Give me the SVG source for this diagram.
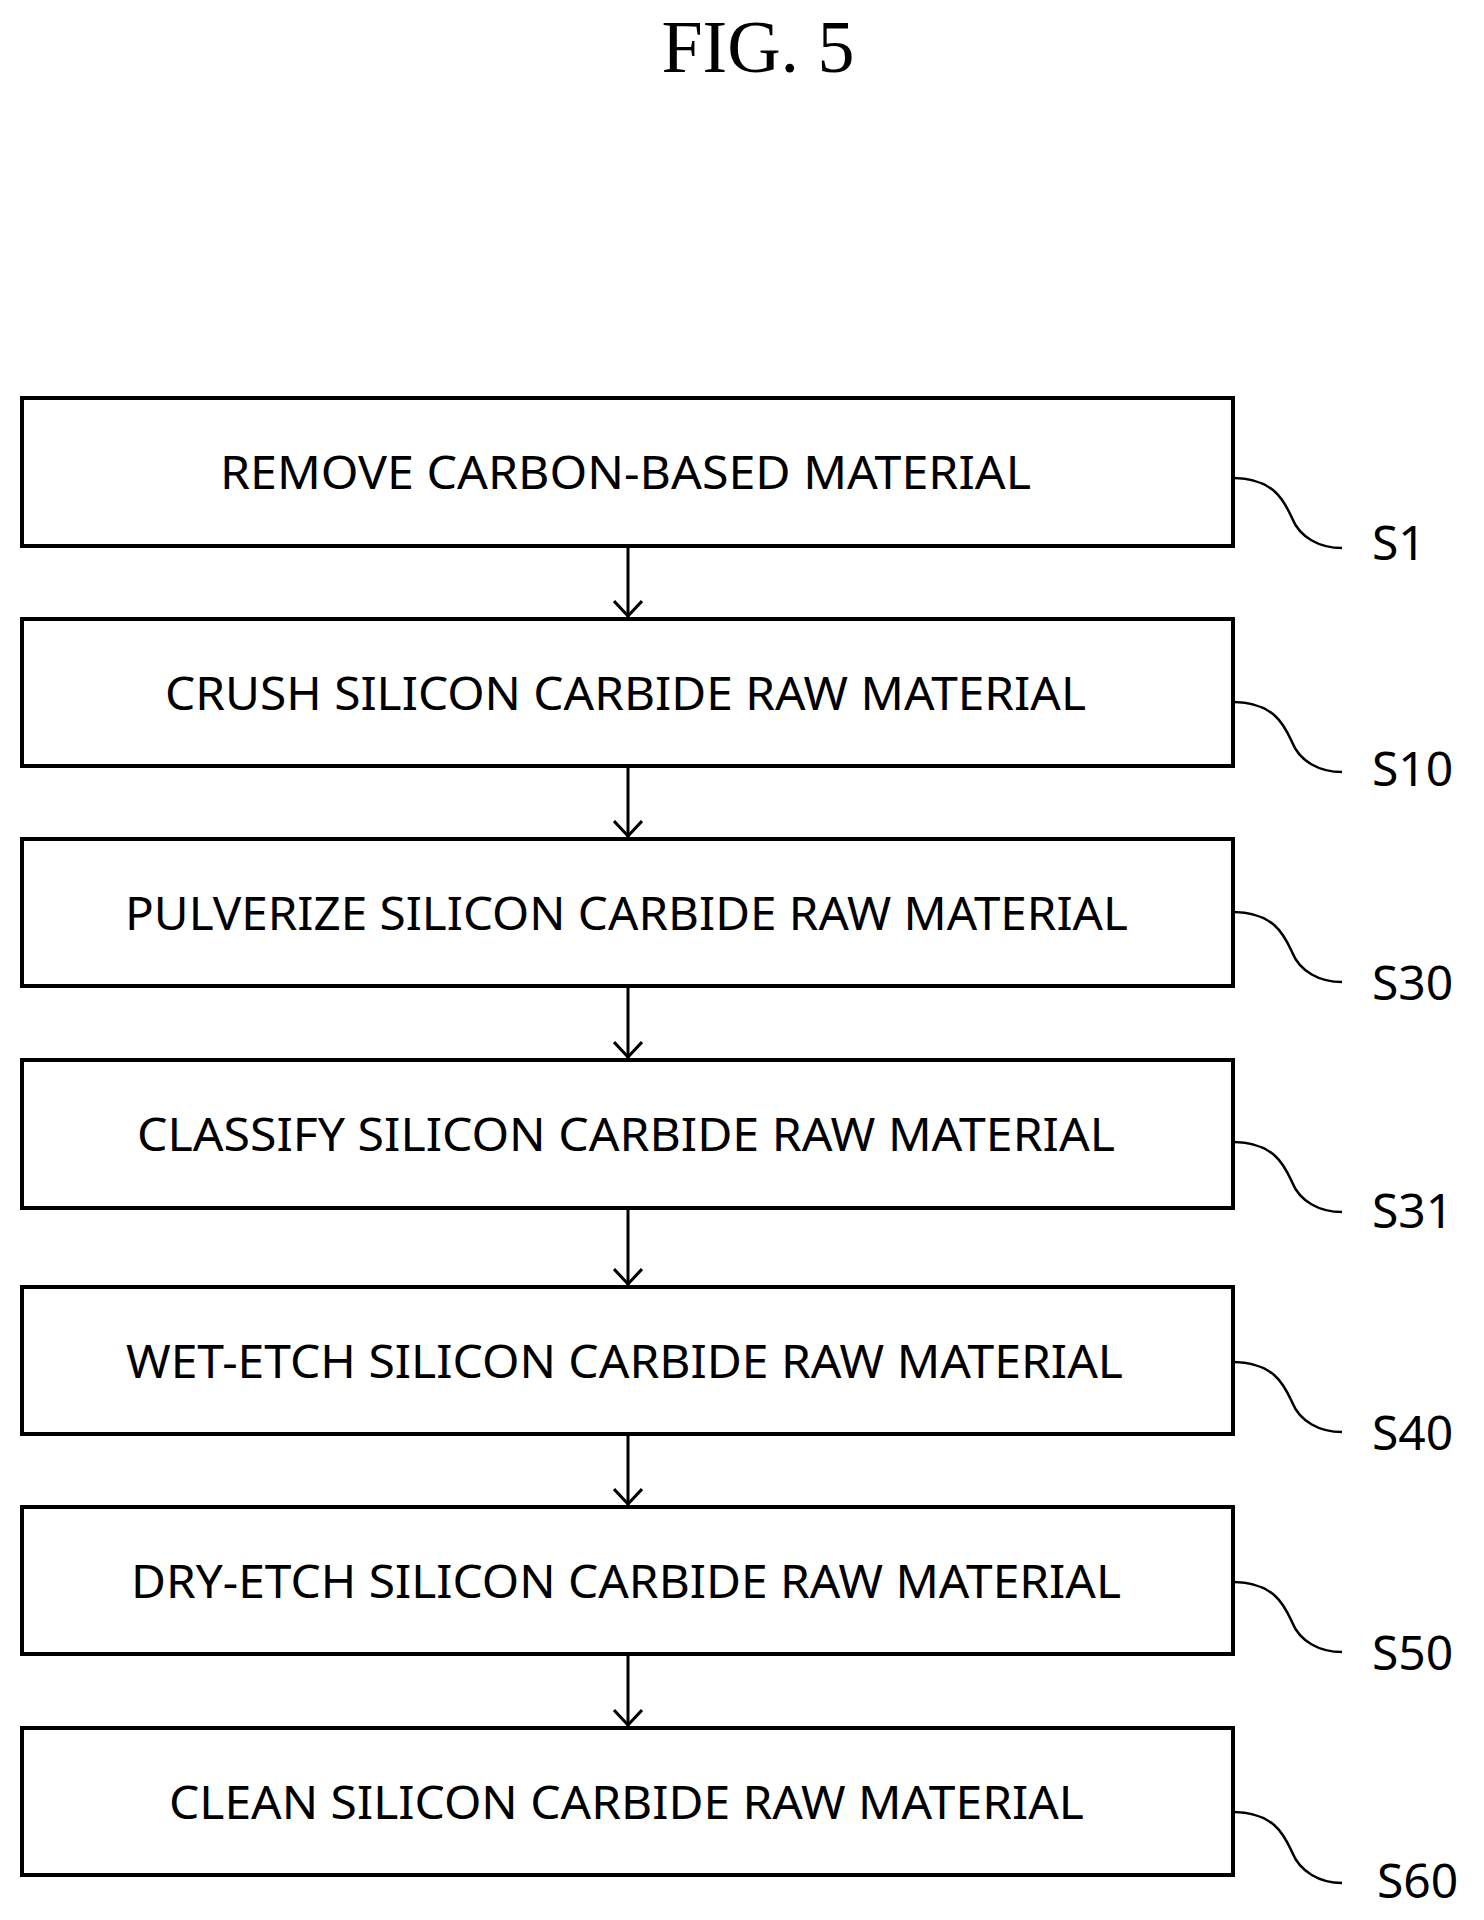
<svg xmlns="http://www.w3.org/2000/svg" width="1484" height="1920" viewBox="0 0 1484 1920">
<style>
.b{fill:#fff;stroke:#000;stroke-width:4}
.t{font-family:"Noto Sans","Noto Sans CJK KR",sans-serif;font-size:46px;text-anchor:start}
.l{font-family:"Noto Sans","Noto Sans CJK KR",sans-serif;font-size:48px}
.c{fill:none;stroke:#000;stroke-width:2.5}
.a{stroke:#000;stroke-width:3;marker-end:url(#ah)}
</style>
<defs><marker id="ah" markerWidth="18" markerHeight="30" refX="17" refY="15" orient="auto" markerUnits="userSpaceOnUse" viewBox="0 0 18 30"><path d="M1,1 L16,15 L1,29" fill="none" stroke="#000" stroke-width="3"/></marker></defs>
<rect width="1484" height="1920" fill="#fff"/>
<text x="758" y="72" font-family="Liberation Serif,serif" font-size="74" text-anchor="middle">FIG. 5</text>
<g id="n1"><rect class="b" x="22" y="398" width="1211" height="148"/><text class="t" x="220" y="489" textLength="811" lengthAdjust="spacingAndGlyphs">REMOVE CARBON-BASED MATERIAL</text><path class="c" d="M1233,478 C1275,478 1285,503 1292,518 C1300,538 1320,548 1342,548"/><text class="l" x="1372" y="560">S1</text></g>
<g id="n2"><rect class="b" x="22" y="619" width="1211" height="147"/><text class="t" x="165" y="710" textLength="921" lengthAdjust="spacingAndGlyphs">CRUSH SILICON CARBIDE RAW MATERIAL</text><path class="c" d="M1233,702 C1275,702 1285,727 1292,742 C1300,762 1320,772 1342,772"/><text class="l" x="1372" y="786">S10</text></g>
<g id="n3"><rect class="b" x="22" y="839" width="1211" height="147"/><text class="t" x="125" y="930" textLength="1003" lengthAdjust="spacingAndGlyphs">PULVERIZE SILICON CARBIDE RAW MATERIAL</text><path class="c" d="M1233,912 C1275,912 1285,937 1292,952 C1300,972 1320,982 1342,982"/><text class="l" x="1372" y="1000">S30</text></g>
<g id="n4"><rect class="b" x="22" y="1060" width="1211" height="148"/><text class="t" x="137" y="1151" textLength="978" lengthAdjust="spacingAndGlyphs">CLASSIFY SILICON CARBIDE RAW MATERIAL</text><path class="c" d="M1233,1142 C1275,1142 1285,1167 1292,1182 C1300,1202 1320,1212 1342,1212"/><text class="l" x="1372" y="1228">S31</text></g>
<g id="n5"><rect class="b" x="22" y="1287" width="1211" height="147"/><text class="t" x="126" y="1378" textLength="997" lengthAdjust="spacingAndGlyphs">WET-ETCH SILICON CARBIDE RAW MATERIAL</text><path class="c" d="M1233,1362 C1275,1362 1285,1387 1292,1402 C1300,1422 1320,1432 1342,1432"/><text class="l" x="1372" y="1450">S40</text></g>
<g id="n6"><rect class="b" x="22" y="1507" width="1211" height="147"/><text class="t" x="131" y="1598" textLength="990" lengthAdjust="spacingAndGlyphs">DRY-ETCH SILICON CARBIDE RAW MATERIAL</text><path class="c" d="M1233,1582 C1275,1582 1285,1607 1292,1622 C1300,1642 1320,1652 1342,1652"/><text class="l" x="1372" y="1670">S50</text></g>
<g id="n7"><rect class="b" x="22" y="1728" width="1211" height="147"/><text class="t" x="169" y="1819" textLength="915" lengthAdjust="spacingAndGlyphs">CLEAN SILICON CARBIDE RAW MATERIAL</text><path class="c" d="M1233,1812 C1275,1812 1285,1837 1292,1852 C1300,1872 1320,1883 1342,1883"/><text class="l" x="1377" y="1898">S60</text></g>
<g id="connectors">
<line class="a" x1="628" y1="548" x2="628" y2="617"/>
<line class="a" x1="628" y1="768" x2="628" y2="837"/>
<line class="a" x1="628" y1="988" x2="628" y2="1058"/>
<line class="a" x1="628" y1="1210" x2="628" y2="1285"/>
<line class="a" x1="628" y1="1436" x2="628" y2="1505"/>
<line class="a" x1="628" y1="1656" x2="628" y2="1726"/>
</g>
</svg>
